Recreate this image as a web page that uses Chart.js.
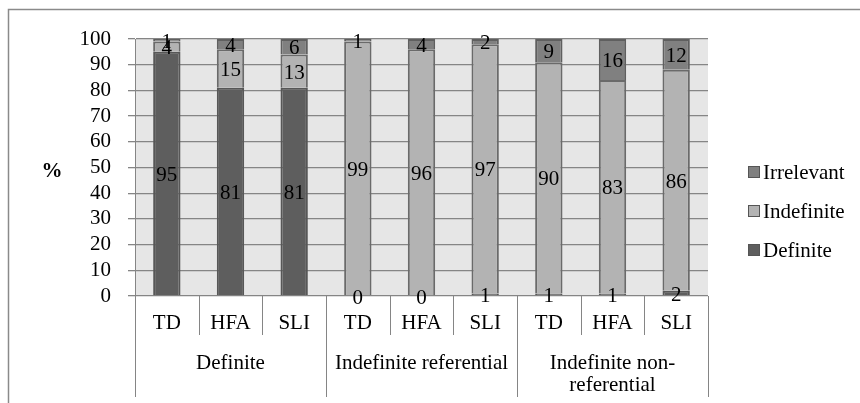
<!DOCTYPE html>
<html>
<head>
<meta charset="utf-8">
<script src="https://cdn.jsdelivr.net/npm/chart.js@4.4.1/dist/chart.umd.min.js"></script>
<style>
html,body{margin:0;padding:0;background:#fff;}
#wrap{width:860px;height:403px;position:relative;}
</style>
</head>
<body>
<div id="wrap"><canvas id="c"></canvas></div>
<script>
const categories = ['TD','HFA','SLI','TD','HFA','SLI','TD','HFA','SLI'];
const groupLabels = [['Definite'], ['Indefinite referential'], ['Indefinite non-', 'referential']];
const groupSizes = [3, 3, 3];
const definite = [95, 81, 81, 0, 0, 1, 1, 1, 2];
const indefinite = [4, 15, 13, 99, 96, 97, 90, 83, 86];
const irrelevant = [1, 4, 6, 1, 4, 2, 9, 16, 12];
const yMin = 0, yMax = 100, yStep = 10;
const yTitle = '%';

const FONT = "'Liberation Serif','Times New Roman',serif";
const FS = 21;
const GRID = '#858585';

const decor = {
  id: 'decor',
  beforeDraw(chart) {
    const ctx = chart.ctx, a = chart.chartArea;
    ctx.save();
    ctx.strokeStyle = '#8a8a8a';
    ctx.lineWidth = 1.5;
    ctx.beginPath();
    ctx.moveTo(8.5, chart.height + 5);
    ctx.lineTo(8.5, 9.5);
    ctx.lineTo(chart.width + 5, 9.5);
    ctx.stroke();
    ctx.fillStyle = '#e6e6e6';
    ctx.fillRect(a.left, a.top, a.right - a.left, a.bottom - a.top);
    ctx.restore();
  },
  afterDraw(chart) {
    const ctx = chart.ctx, a = chart.chartArea, xs = chart.scales.x;
    ctx.save();
    ctx.font = FS + 'px ' + FONT;
    ctx.fillStyle = '#000';
    ctx.textAlign = 'center';
    ctx.textBaseline = 'middle';
    chart.data.datasets.forEach((ds, di) => {
      const meta = chart.getDatasetMeta(di);
      meta.data.forEach((el, i) => {
        const y = (el.y + el.base) / 2 + 2;
        ctx.fillText(String(ds.data[i]), el.x, y);
      });
    });
    const n = categories.length;
    const step = (xs.right - xs.left) / n;
    ctx.strokeStyle = GRID;
    ctx.lineWidth = 1;
    const boundaryIsGroup = new Set([0]);
    let acc = 0;
    groupSizes.forEach(s => { acc += s; boundaryIsGroup.add(acc); });
    for (let i = 0; i <= n; i++) {
      const x = Math.round(xs.left + step * i) + 0.5;
      const yEnd = boundaryIsGroup.has(i) ? a.bottom + 101 : a.bottom + 39;
      ctx.beginPath();
      ctx.moveTo(x, a.bottom);
      ctx.lineTo(x, yEnd);
      ctx.stroke();
    }
    categories.forEach((c, i) => {
      ctx.fillText(c, xs.getPixelForValue(i), a.bottom + 27);
    });
    let start = 0;
    groupLabels.forEach((lines, g) => {
      const x0 = xs.left + step * start;
      const x1 = xs.left + step * (start + groupSizes[g]);
      const cx = (x0 + x1) / 2;
      lines.forEach((ln, k) => ctx.fillText(ln, cx, a.bottom + 67 + k * 22));
      start += groupSizes[g];
    });
    ctx.font = 'bold ' + FS + 'px ' + FONT;
    ctx.fillText(yTitle, 52, (a.top + a.bottom) / 2 + 4);
    ctx.font = FS + 'px ' + FONT;
    ctx.textAlign = 'left';
    const items = chart.data.datasets.slice().reverse();
    items.forEach((ds, k) => {
      const cy = 172 + k * 39;
      ctx.fillStyle = ds.backgroundColor;
      ctx.fillRect(748, cy - 6, 12, 12);
      ctx.strokeStyle = '#555';
      ctx.lineWidth = 1;
      ctx.strokeRect(748.5, cy - 5.5, 11, 11);
      ctx.fillStyle = '#000';
      ctx.fillText(ds.label, 763, cy + 1);
    });
    ctx.restore();
  }
};

new Chart(document.getElementById('c'), {
  type: 'bar',
  data: {
    labels: categories,
    datasets: [
      { label: 'Definite', data: definite, backgroundColor: '#5e5e5e', borderColor: '#575757', borderWidth: 2 },
      { label: 'Indefinite', data: indefinite, backgroundColor: '#b3b3b3', borderColor: '#6a6a6a', borderWidth: 2 },
      { label: 'Irrelevant', data: irrelevant, backgroundColor: '#808080', borderColor: '#5f5f5f', borderWidth: 2 }
    ]
  },
  options: {
    responsive: true,
    maintainAspectRatio: false,
    animation: false,
    devicePixelRatio: 1,
    layout: { padding: { left: 0, top: 39, right: 152, bottom: 107 } },
    datasets: { bar: { barPercentage: 0.43, categoryPercentage: 1.0 } },
    plugins: { legend: { display: false }, tooltip: { enabled: false } },
    scales: {
      x: { stacked: true, display: false },
      y: {
        stacked: true,
        min: yMin, max: yMax,
        afterFit(s) { s.width = 135; },
        ticks: { stepSize: yStep, autoSkip: false, color: '#000', font: { family: FONT, size: FS }, padding: 17 },
        grid: { color: GRID, lineWidth: 1.3, tickLength: 7 },
        border: { color: GRID, width: 1 }
      }
    }
  },
  plugins: [decor]
});
</script>
</body>
</html>
